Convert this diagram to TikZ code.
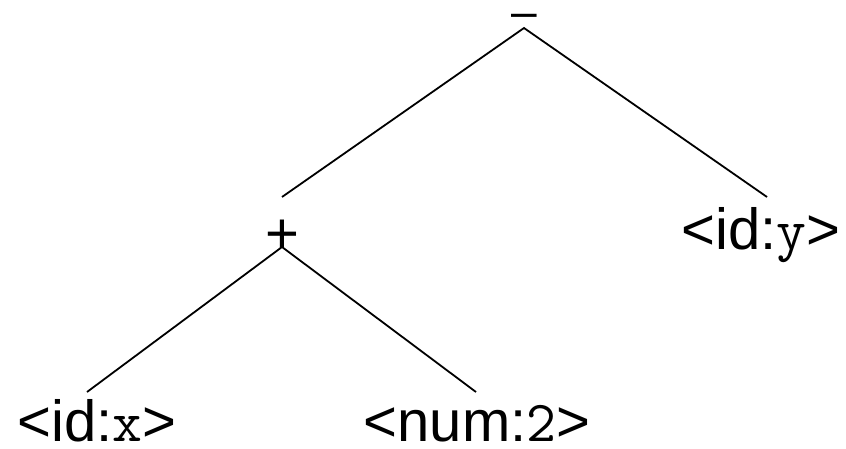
\documentclass[tikz,border=0pt]{standalone}
\usepackage{fontspec}
\setmainfont{Liberation Sans}
\begin{document}
\begin{tikzpicture}[x=1pt,y=-1pt,
  lbl/.style={inner sep=0pt,outer sep=0pt,anchor=base,font=\fontsize{58}{70}\selectfont},
  edge/.style={line width=1.8pt,line cap=butt}]
\useasboundingbox (0,0) rectangle (846,449);
% nodes
\node[lbl] (minus) at (524,28) {\fontsize{46}{50}\selectfont –};
\node[lbl] (plus) at (282,253) {+};
\node[lbl] (idy) at (761,249) {<id:\texttt{y}>};
\node[lbl] (idx) at (97,441) {<id:\texttt{x}>};
\node[lbl] (num) at (477,441) {<num:\texttt{2}>};
% connector ends
\coordinate (mtop) at (524,28);
\coordinate (pend) at (282,197);
\coordinate (yend) at (767,197);
\coordinate (ptop) at (282,247);
\coordinate (xend) at (87,392);
\coordinate (nend) at (476,392);
\draw[edge] (pend) -- (mtop) -- (yend);
\draw[edge] (xend) -- (ptop) -- (nend);
\end{tikzpicture}
\end{document}
